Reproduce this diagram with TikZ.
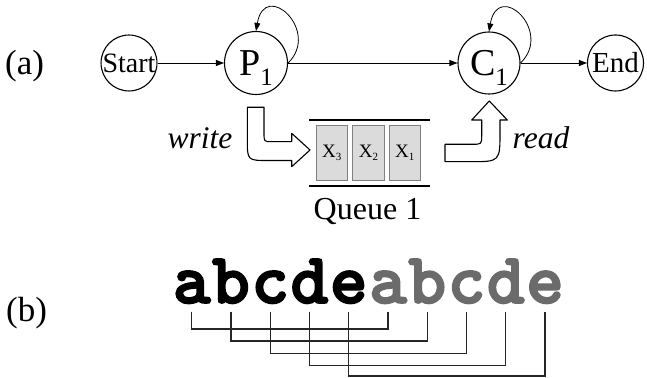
\documentclass[tikz,border=0pt]{standalone}
\usepackage{fontspec}
\setmainfont{Liberation Serif}
\newfontfamily\monob{lmmonolt10-bold.otf}[FakeBold=2.5]
\usetikzlibrary{arrows.meta}
\begin{document}
\begin{tikzpicture}[x=1pt,y=1pt,
  state/.style={circle,draw,line width=1.1pt,inner sep=0pt},
  flow/.style={line width=0.8pt,-{Triangle[length=8pt,width=6pt]}},
  qbox/.style={draw=black!50,fill=black!14,line width=0.8pt,minimum width=31.5pt,minimum height=55.7pt,inner sep=0pt,font=\fontsize{19}{19}\selectfont},
  qline/.style={line width=2.5pt},
  hollow/.style={draw,line width=1.1pt,fill=white,line join=round},
  lbl/.style={inner sep=0pt,font=\fontsize{35}{35}\selectfont},
  ital/.style={anchor=base,inner sep=0pt,font=\fontsize{31.5}{31.5}\selectfont\itshape},
  lt/.style={anchor=base,inner sep=0pt,font=\monob\fontsize{72}{72}\selectfont},
  conn/.style={line width=1.4pt,black!85}
]
\useasboundingbox (0,0) rectangle (647,377);

% (a) states
\node[state,minimum size=55pt,font=\fontsize{28}{28}\selectfont] (start) at (129,314) {Start};
\node[state,minimum size=63pt,font=\fontsize{38}{38}\selectfont] (p1) at (256,314) {P\smash{\raisebox{-10pt}{\fontsize{25}{25}\selectfont 1}}};
\node[state,minimum size=62pt,font=\fontsize{38}{38}\selectfont] (c1) at (489,314) {C\smash{\raisebox{-10pt}{\fontsize{25}{25}\selectfont 1}}};
\node[state,minimum size=56pt,font=\fontsize{29}{29}\selectfont] (end) at (615.5,314) {End};

\draw[flow] (start) -- (p1);
\draw[flow] (p1) -- (c1);
\draw[flow] (c1) -- (end);
\draw[flow] (p1.east) .. controls +(33,32) and +(9,52) .. (p1.north);
\draw[flow] (c1.east) .. controls +(33,32) and +(9,52) .. (c1.north);

% queue
\coordinate (qtl) at (309.3,257);
\coordinate (qtr) at (430,257);
\coordinate (qbl) at (309.3,191);
\coordinate (qbr) at (430,191);
\draw[qline] (qtl) -- (qtr);
\draw[qline] (qbl) -- (qbr);
\node[qbox] (x3) at (331.7,224.2) {X\raisebox{-3pt}{\fontsize{11}{11}\selectfont 3}};
\node[qbox] (x2) at (368.5,224.2) {X\raisebox{-3pt}{\fontsize{11}{11}\selectfont 2}};
\node[qbox] (x1) at (404.7,224.2) {X\raisebox{-3pt}{\fontsize{11}{11}\selectfont 1}};
\node[anchor=base,inner sep=0pt,font=\fontsize{32}{32}\selectfont] (qlab) at (367.5,157) {Queue 1};

% hollow arrows
\draw[hollow] (247.3,269.7) -- (264,269.7) -- (264,244) .. controls (264,235.3) .. (272,235.3)
  -- (291.7,235.3) -- (291.7,243.7) -- (310,227) -- (291.7,210.3) -- (291.7,216.5)
  -- (268,216.5) .. controls (247.3,216.5) .. (247.3,238) -- cycle;
\draw[hollow] (445,232.7) -- (472,232.7) .. controls (481.7,232.7) .. (481.7,242)
  -- (481.7,257) -- (471.7,257) -- (489.3,276) -- (507.3,257) -- (500,257)
  -- (500,245.3) .. controls (500,215.3) .. (470,215.3) -- (445,215.3) -- cycle;

\node[ital] (wr) at (200,228.7) {write};
\node[ital] (rd) at (541,228.7) {read};

% panel labels
\node[lbl,anchor=base west] (la) at (5,302) {(a)};
\node[lbl,anchor=base west] (lb) at (6,55.3) {(b)};

% (b) letters
\foreach \c [count=\i from 0] in {a,b,c,d,e}{
  \node[lt,text=black] (l\i) at ({191.7+39.26*\i},74) {\c};
  \node[lt,text=black!58] (g\i) at ({191.7+39.26*(\i+5)},74) {\c};
}
\foreach \i/\lev in {0/48,1/36,2/23.7,3/11.3,4/1.2}{
  \coordinate (h\i) at (0,\lev);
  \draw[conn] ([yshift=-8.7pt]l\i.base) -- (l\i.base |- h\i) -- (g\i.base |- h\i) -- ([yshift=-8.7pt]g\i.base);
}
\end{tikzpicture}
\end{document}
